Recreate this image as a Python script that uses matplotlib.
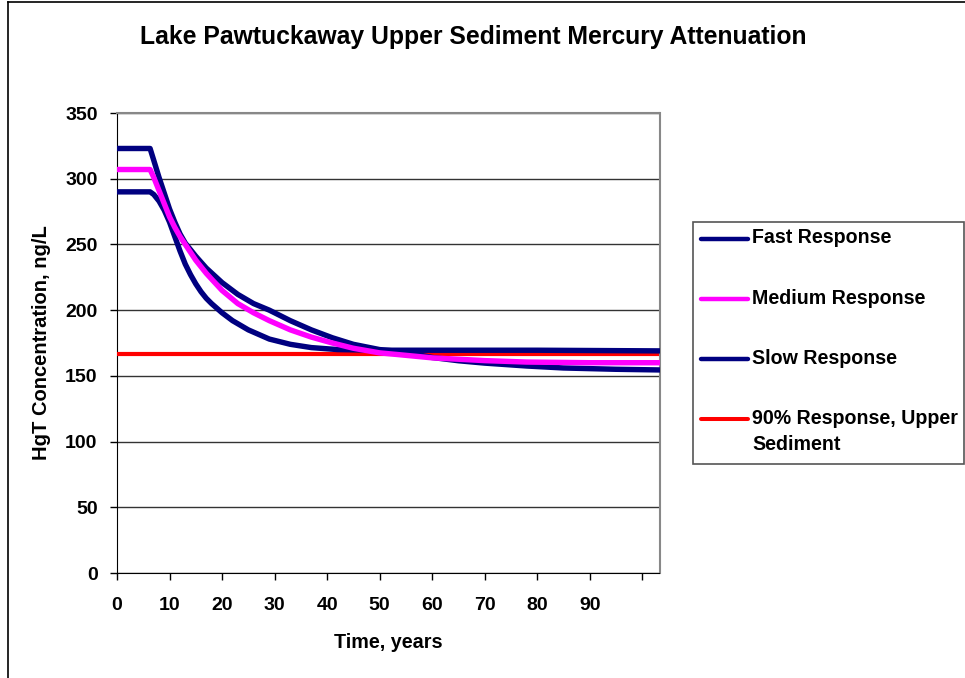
import matplotlib
matplotlib.use("Agg")
import matplotlib.pyplot as plt
from matplotlib.patches import Rectangle
from matplotlib.lines import Line2D

plt.rcParams['font.family'] = ['Liberation Sans', 'DejaVu Sans']
plt.rcParams['font.weight'] = 'bold'

# ---- data ----
fast_t = [0, 6.3, 7, 8, 9, 10, 11, 12, 13, 14, 15, 16, 17, 18, 20, 22, 25, 29, 33, 37, 42, 50, 60, 80, 103.3]
fast_v = [290, 290, 288, 283, 276, 267, 256, 245, 235, 227, 220, 214, 209, 205, 198, 192, 185, 178, 174, 171.5, 170, 169.5, 169.5, 169.5, 169]

medium_t = [0, 6.3, 7, 8, 9, 10, 11, 12, 13, 15, 17, 20, 23, 26, 29, 33, 37, 41, 45, 50, 54, 60, 70, 78, 90, 103.3]
medium_v = [307, 307, 301, 291, 281, 271, 263, 256, 250, 238, 228, 215, 205, 198, 192, 185, 179.5, 175, 171, 167.5, 166, 163.7, 161.6, 160.5, 160, 160]

slow_t = [0, 6.3, 7, 8, 9, 10, 11, 12, 13, 15, 17, 20, 23, 26, 29, 33, 37, 41, 45, 50, 54, 60, 65, 70, 78, 85, 95, 103.3]
slow_v = [323, 323, 314, 301, 289, 277, 267, 258, 251, 241, 232, 221, 212, 205, 200, 192, 185, 179, 174, 170, 168.5, 164, 161.5, 159.7, 157.5, 156, 155, 154.5]

target_t = [0, 103.3]
target_v = [167, 167]

x_ticks = [0, 10, 20, 30, 40, 50, 60, 70, 80, 90, 100]
x_labels = ['0', '10', '20', '30', '40', '50', '60', '70', '80', '90', '']
y_ticks = [0, 50, 100, 150, 200, 250, 300, 350]

names = ['Fast Response', 'Medium Response', 'Slow Response', '90% Response, Upper', 'Sediment']
colors = ['#000080', '#FF00FF', '#000080', '#FF0000']

# ---- figure ----
W, H = 965, 678
fig = plt.figure(figsize=(W / 100, H / 100), dpi=100)

def fx(px):
    return px / W

def fy(py):
    return 1 - py / H

ax = fig.add_axes([fx(117), fy(573), fx(659.5) - fx(117), fy(113) - fy(573)])

ax.plot(target_t, target_v, color=colors[3], lw=3.0, solid_capstyle='butt', zorder=3)
ax.plot(fast_t, fast_v, color=colors[0], lw=3.9, solid_capstyle='round', zorder=4)
ax.plot(slow_t, slow_v, color=colors[2], lw=3.9, solid_capstyle='round', zorder=4)
ax.plot(medium_t, medium_v, color=colors[1], lw=3.9, solid_capstyle='round', zorder=5)

ax.set_xlim(0, 103.3)
ax.set_ylim(0, 350)
ax.set_xticks(x_ticks)
ax.set_xticklabels(x_labels)
ax.set_yticks(y_ticks)
ax.tick_params(axis='both', direction='out', length=5, width=1, labelsize=14, color='black')
ax.tick_params(axis='x', pad=12)
ax.tick_params(axis='y', pad=9)
for lab in ax.get_xticklabels() + ax.get_yticklabels():
    lab.set_fontweight('bold')

ax.yaxis.grid(True, color='#333333', lw=1.0)
ax.set_axisbelow(True)
for s in ['top', 'right']:
    ax.spines[s].set_color('#888888')
    ax.spines[s].set_linewidth(1.5)
ax.spines['left'].set_color('black')
ax.spines['bottom'].set_color('black')

ax.set_xlabel('Time, years', fontsize=14.2, fontweight='bold', labelpad=14)
ax.set_ylabel('HgT Concentration, ng/L', fontsize=14.5, fontweight='bold', labelpad=10)

fig.text(fx(473), fy(37), 'Lake Pawtuckaway Upper Sediment Mercury Attenuation',
         ha='center', va='center', fontsize=17.8, fontweight='bold')

# chart-area frame (left and top edges visible)
fig.add_artist(Line2D([fx(7.5), fx(7.5)], [0, fy(2)], color='black', lw=1.2))
fig.add_artist(Line2D([fx(7.5), 1], [fy(2), fy(2)], color='black', lw=1.2))

# legend box
fig.add_artist(Rectangle((fx(693), fy(464)), fx(964) - fx(693), fy(222) - fy(464),
                         fill=False, edgecolor='#555555', lw=1.2))
entry_y = [238, 298, 358, 418]
for c, ey in zip(colors, entry_y):
    lw = 2.9 if c == '#FF0000' else 3.2
    fig.add_artist(Line2D([fx(701), fx(748)], [fy(ey + 1), fy(ey + 1)], color=c, lw=lw,
                          solid_capstyle='round'))
text_y = [238, 298, 358, 418, 444]
for name, ty in zip(names, text_y):
    fig.text(fx(752), fy(ty), name, ha='left', va='center', fontsize=14.1, fontweight='bold')

fig.savefig('out.png', dpi=100)
